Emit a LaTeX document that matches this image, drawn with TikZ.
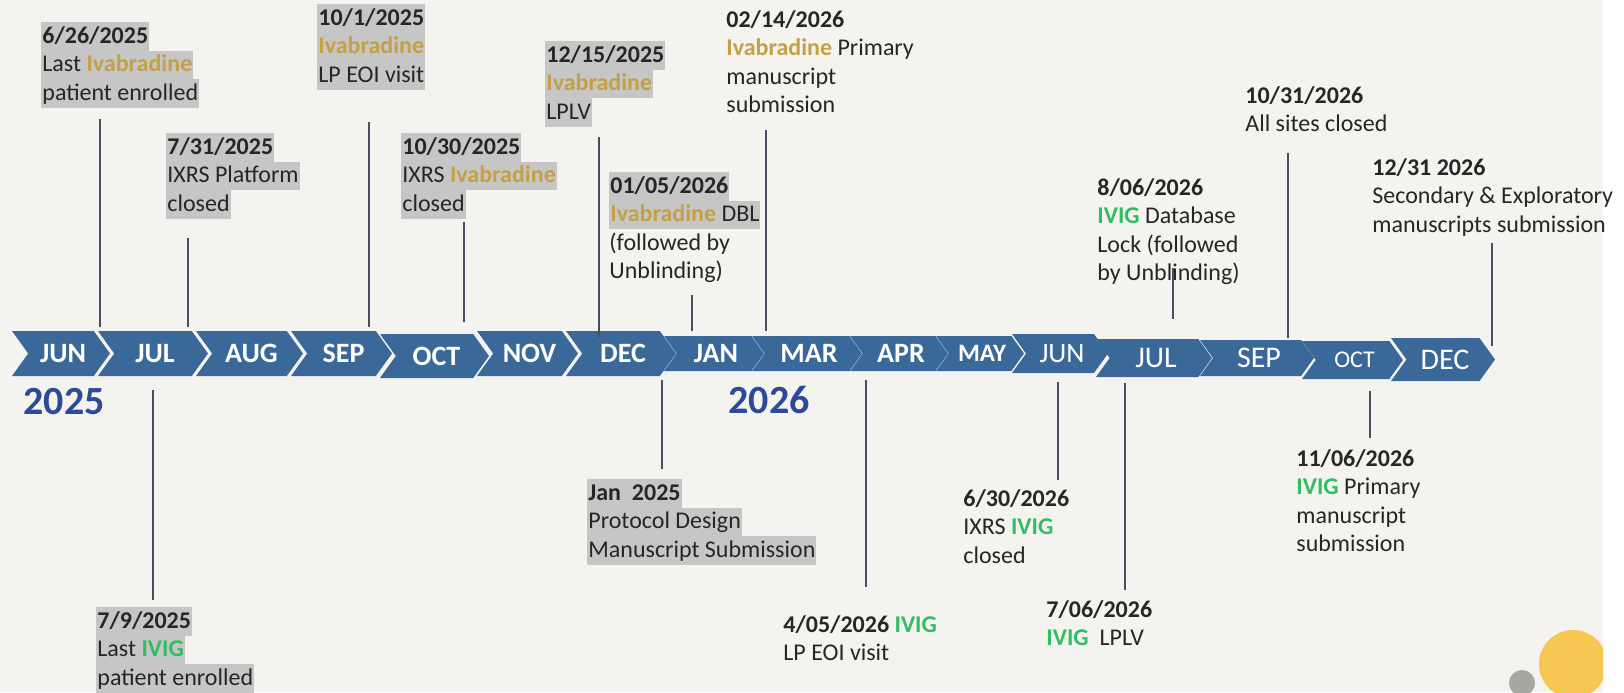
\documentclass[tikz,border=0pt]{standalone}
\usepackage{fontspec}
\setmainfont{Carlito}
\usetikzlibrary{calc}

\definecolor{paper}{RGB}{244,243,239}
\definecolor{chevblue}{RGB}{58,104,153}
\definecolor{yearblue}{RGB}{44,74,150}
\definecolor{hlgrey}{RGB}{198,198,198}
\definecolor{ivagold}{RGB}{198,160,68}
\definecolor{ivigreen}{RGB}{48,190,98}
\definecolor{tickgrey}{RGB}{72,78,98}
\definecolor{txtdark}{RGB}{38,38,38}
\definecolor{dotyellow}{RGB}{248,198,82}
\definecolor{dotgrey}{RGB}{168,168,160}

\newcommand{\lnstrut}{\rule[-3.75pt]{0pt}{14.25pt}}
\newcommand{\hlbox}[1]{{\setlength{\fboxsep}{0pt}\colorbox{hlgrey}{\lnstrut\kern0.5pt#1\kern0.5pt}}}
\newcommand{\txl}[1]{\lnstrut#1}
\newcommand{\ivab}{\textbf{\color{ivagold}Ivabradine}}
\newcommand{\ivig}{\textbf{\color{ivigreen}IVIG}}

\begin{document}
\begin{tikzpicture}[x=0.5pt,y=-0.5pt,
    ev/.style={anchor=north west,align=left,inner sep=0pt,text=txtdark,
      font=\fontsize{12}{14.25}\selectfont},
    tick/.style={draw=tickgrey,line width=0.7pt},
    yr/.style={text=yearblue,font=\fontsize{20}{20}\selectfont\bfseries,inner sep=0pt}]

    \fill[paper] (0,0) rectangle (1603,692);
    \fill[white] (1603,0) rectangle (1624,692);
    \useasboundingbox (0,0) rectangle (1624,692);

    % month chevrons
    \foreach \nm/\lbl/\lx/\rx/\yt/\yb/\fs/\sr in {
        jun25/JUN/12/110/331/376/14/\bfseries,
        jul25/JUL/98/208/331/376/14/\bfseries,
        aug25/AUG/196/303/331/376/14/\bfseries,
        sep25/SEP/291/392/331/376/14/\bfseries,
        oct25/OCT/380/489/334/378/14/\bfseries,
        nov25/NOV/477/578/331/376/14/\bfseries,
        dec25/DEC/566/676/331/376/14/\bfseries,
        jan26/JAN/664/764/336/371/14/\bfseries,
        mar26/MAR/752/862/336/371/14/\bfseries,
        apr26/APR/850/948/336/371/14/\bfseries,
        may26/MAY/936/1024/336/371/12.5/\bfseries,
        jun26/JUN/1012/1108/334/373/14/\mdseries,
        jul26/JUL/1096/1212/339/377/15/\mdseries,
        sep26/SEP/1200/1314/340/376/15/\mdseries,
        oct26/OCT/1302/1403/341/379/12/\mdseries,
        dec26/DEC/1391/1495/338/381/15/\mdseries}{
        \pgfmathsetmacro\dep{0.36*(\yb-\yt)}
        \fill[chevblue] (\lx,\yt) -- (\rx-\dep,\yt) -- (\rx,{(\yt+\yb)/2})
            -- (\rx-\dep,\yb) -- (\lx,\yb) -- (\lx+\dep,{(\yt+\yb)/2}) -- cycle;
        \node[text=white,inner sep=0pt,minimum height={(\yb-\yt)*0.5pt},
            font=\fontsize{\fs}{\fs}\selectfont\sr]
            (\nm) at ({(\lx+\rx)/2+2},{(\yt+\yb)/2}) {\lbl};
    }

    \node[yr] (y25) at (64,402) {2025};
    \node[yr] (y26) at (769,400) {2026};

    % above the band
    \node[ev] (ivaenrol) at (41,22) {\hlbox{\textbf{6/26/2025}}\\\hlbox{Last \ivab}\\\hlbox{patient enrolled}};
    \node[ev] (ixrsclose) at (166,133) {\hlbox{\textbf{7/31/2025}}\\\hlbox{IXRS Platform}\\\hlbox{closed}};
    \node[ev] (ivaeoi) at (317,4) {\hlbox{\textbf{10/1/2025}}\\\hlbox{\ivab}\\\hlbox{LP EOI visit}};
    \node[ev] (ixrsiva) at (401,133) {\hlbox{\textbf{10/30/2025}}\\\hlbox{IXRS \ivab}\\\hlbox{closed}};
    \node[ev] (ivalplv) at (545,41) {\hlbox{\textbf{12/15/2025}}\\\hlbox{\ivab}\\\hlbox{LPLV}};
    \node[ev] (ivadbl) at (609,172) {\hlbox{\textbf{01/05/2026}}\\\hlbox{\ivab\ DBL}\\\txl{(followed by}\\\txl{Unblinding)}};
    \node[ev] (ivaprim) at (726,6) {\txl{\textbf{02/14/2026}}\\\txl{\ivab\ Primary}\\\txl{manuscript}\\\txl{submission}};
    \node[ev] (ivigdbl) at (1097,174) {\txl{\textbf{8/06/2026}}\\\txl{\ivig\ Database}\\\txl{Lock (followed}\\\txl{by Unblinding)}};
    \node[ev] (sitesclose) at (1245,82) {\txl{\textbf{10/31/2026}}\\\txl{All sites closed}};
    \node[ev] (secman) at (1372,154) {\txl{\textbf{12/31 2026}}\\\txl{Secondary \& Exploratory}\\\txl{manuscripts submission}};

    % below the band
    \node[ev] (ivigenrol) at (96,607) {\hlbox{\textbf{7/9/2025}}\\\hlbox{Last \ivig}\\\hlbox{patient enrolled}};
    \node[ev] (protman) at (587,479) {\hlbox{\textbf{Jan\ \ 2025}}\\\hlbox{Protocol Design}\\\hlbox{Manuscript Submission}};
    \node[ev] (ivigeoi) at (783,611) {\txl{\textbf{4/05/2026} \ivig}\\\txl{LP EOI visit}};
    \node[ev] (ixrsivig) at (963,485) {\txl{\textbf{6/30/2026}}\\\txl{IXRS \ivig}\\\txl{closed}};
    \node[ev] (iviglplv) at (1046,596) {\txl{\textbf{7/06/2026}}\\\txl{\ivig\ \ LPLV}};
    \node[ev] (ivigprim) at (1296,445) {\txl{\textbf{11/06/2026}}\\\txl{\ivig\ Primary}\\\txl{manuscript}\\\txl{submission}};

    % ticks
    \coordinate (t1) at (100,119);
    \coordinate (t2) at (188,238);
    \coordinate (t3) at (369,122);
    \coordinate (t4) at (464,222);
    \coordinate (t5) at (599,137);
    \coordinate (t6) at (692,295);
    \coordinate (t7) at (766,130);
    \coordinate (t8) at (1173,268);
    \coordinate (t9) at (1288,153);
    \coordinate (t10) at (1492,243);
    \draw[tick,shorten >=2pt] (t1) -- (t1 |- jun25.north);
    \draw[tick,shorten >=2pt] (t2) -- (t2 |- jul25.north);
    \draw[tick,shorten >=2pt] (t3) -- (t3 |- sep25.north);
    \draw[tick,shorten >=6pt] (t4) -- (t4 |- oct25.north);
    \draw[tick,shorten >=-3pt] (t5) -- (t5 |- dec25.north);
    \draw[tick,shorten >=2.5pt] (t6) -- (t6 |- jan26.north);
    \draw[tick,shorten >=2.5pt] (t7) -- (t7 |- mar26.north);
    \draw[tick,shorten >=10pt] (t8) -- (t8 |- jul26.north);
    \draw[tick,shorten >=1pt] (t9) -- (t9 |- sep26.north);
    \draw[tick,shorten >=-4pt] (t10) -- (t10 |- dec26.north);

    \coordinate (b1) at (153,600);
    \coordinate (b2) at (662,469);
    \coordinate (b3) at (866,587);
    \coordinate (b4) at (1058,480);
    \coordinate (b5) at (1125,590);
    \coordinate (b6) at (1370,438);
    \draw[tick,shorten <=7pt] (b1 |- jul25.south) -- (b1);
    \draw[tick,shorten <=2pt] (b2 |- dec25.south) -- (b2);
    \draw[tick,shorten <=4.5pt] (b3 |- apr26.south) -- (b3);
    \draw[tick,shorten <=4.5pt] (b4 |- jun26.south) -- (b4);
    \draw[tick,shorten <=3pt] (b5 |- jul26.south) -- (b5);
    \draw[tick,shorten <=6pt] (b6 |- oct26.south) -- (b6);

    \begin{scope}
        \clip (0,0) rectangle (1603,692);
        \fill[dotyellow] (1573,664) circle [radius=34];
    \end{scope}
    \fill[dotgrey] (1522,683) circle [radius=13];
\end{tikzpicture}
\end{document}
